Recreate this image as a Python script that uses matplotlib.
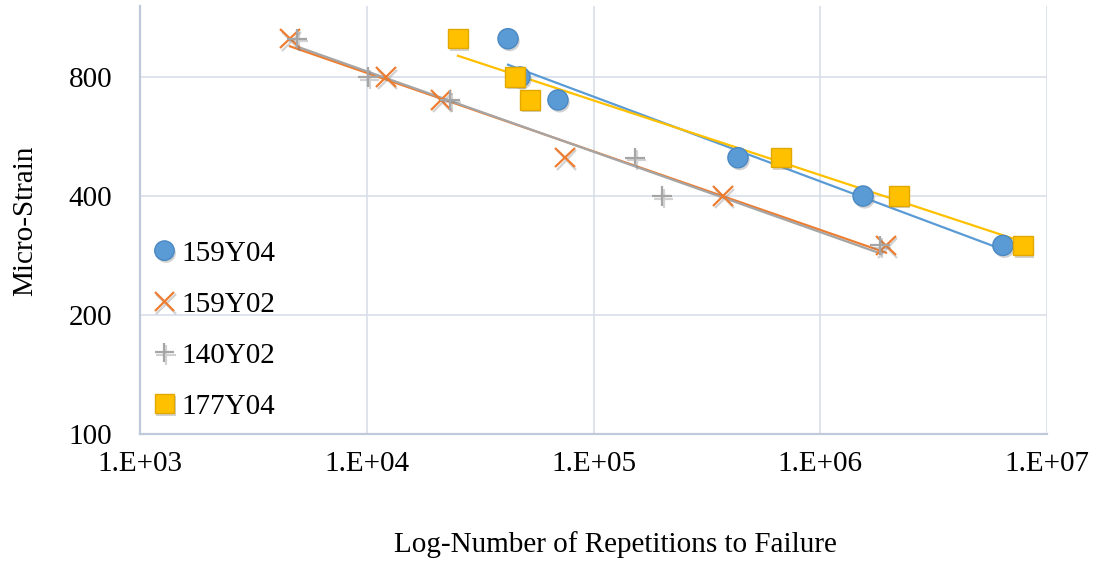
import numpy as np
import matplotlib
matplotlib.use('Agg')
import matplotlib.pyplot as plt
import matplotlib.patheffects as pe
from matplotlib.ticker import FixedLocator, NullLocator

plt.rcParams['font.family'] = ['Liberation Serif', 'DejaVu Serif']

# Fatigue data: repetitions to failure vs micro-strain
n_159y04 = [41980, 47400, 69700, 433600, 1545000, 6390000]
e_159y04 = [1000, 800, 700, 500, 400, 300]

n_159y02 = [4586, 12160, 21250, 74860, 372600, 1950000]
e_159y02 = [1000, 800, 700, 500, 400, 300]

n_140y02 = [4924, 10130, 23290, 152400, 200500, 1834000]
e_140y02 = [1000, 800, 700, 500, 400, 300]

n_177y04 = [25240, 45060, 52480, 671000, 2224000, 7834000]
e_177y04 = [1000, 800, 700, 500, 400, 300]

series = [
    ('159Y04', n_159y04, e_159y04, '#5B9BD5', 'o'),
    ('159Y02', n_159y02, e_159y02, '#ED7D31', 'x'),
    ('140Y02', n_140y02, e_140y02, '#A5A5A5', '+'),
    ('177Y04', n_177y04, e_177y04, '#FFC000', 's'),
]

fig = plt.figure(figsize=(10.96, 5.62), dpi=100)
ax = fig.add_axes([140 / 1096, 128 / 562, 907 / 1096, 428 / 562])

ax.set_xscale('log')
ax.set_yscale('log', base=2)
ax.set_xlim(1e3, 1e7)
ax.set_ylim(100, 1210)

grid_c = '#D9DEE8'
for xv in [1e4, 1e5, 1e6, 1e7]:
    ax.axvline(xv, color=grid_c, lw=1.2, zorder=0)
for yv in [200, 400, 800]:
    ax.axhline(yv, color=grid_c, lw=1.2, zorder=0)

shadow_fill = [pe.SimplePatchShadow(offset=(1.2, -1.8), shadow_rgbFace='#808080', alpha=0.35), pe.Normal()]
shadow_line = [pe.SimpleLineShadow(offset=(1.2, -1.8), shadow_color='#808080', alpha=0.35), pe.Normal()]

handles = []
for name, n, e, color, mk in series:
    n = np.array(n, dtype=float)
    e = np.array(e, dtype=float)
    # power trendline fitted in log-log space
    k, c = np.polyfit(np.log10(n), np.log10(e), 1)
    xs = np.array([n.min(), n.max()])
    ax.plot(xs, 10 ** (c + k * np.log10(xs)), color=color, lw=1.6, zorder=2)

    if mk in ('o', 's'):
        edge = {'o': '#4A88C2', 's': '#E0A800'}[mk]
        h, = ax.plot(n, e, ls='none', marker=mk, ms=14.5 if mk == 'o' else 14,
                     mfc=color, mec=edge, mew=1.0, zorder=3, label=name,
                     path_effects=shadow_fill)
    else:
        h, = ax.plot(n, e, ls='none', marker=mk, ms=14, mec=color, mew=1.6,
                     zorder=3, label=name, path_effects=shadow_line)
    handles.append(h)

ax.xaxis.set_major_locator(FixedLocator([1e3, 1e4, 1e5, 1e6, 1e7]))
ax.xaxis.set_minor_locator(NullLocator())
ax.set_xticklabels(['1.E+03', '1.E+04', '1.E+05', '1.E+06', '1.E+07'])
ax.yaxis.set_major_locator(FixedLocator([100, 200, 400, 800]))
ax.yaxis.set_minor_locator(NullLocator())
ax.set_yticklabels(['100', '200', '400', '800'])
ax.tick_params(axis='both', length=0, labelsize=21)
ax.tick_params(axis='y', pad=20)
ax.tick_params(axis='x', pad=12)

for s in ['top', 'right']:
    ax.spines[s].set_visible(False)
for s in ['left', 'bottom']:
    ax.spines[s].set_color('#BFC9DA')
    ax.spines[s].set_linewidth(1.6)

fig.text(25 / 1096, 1 - 221 / 562, 'Micro-Strain', rotation=90,
         ha='center', va='center', fontsize=21)
fig.text(615 / 1096, 1 - 545 / 562, 'Log-Number of Repetitions to Failure',
         ha='center', va='center', fontsize=21)

leg = ax.legend(handles=handles, loc='upper left',
                bbox_to_anchor=(-0.01, 0.50), frameon=False, fontsize=21,
                handlelength=0.9, handletextpad=0.12, labelspacing=0.84,
                borderaxespad=0.3)
for h in leg.legend_handles:
    h.set_markersize(14)

fig.savefig('out.png', dpi=100)
